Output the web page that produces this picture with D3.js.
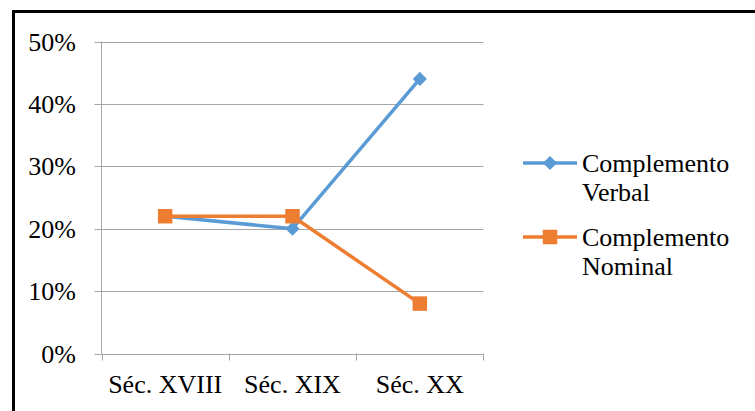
<!DOCTYPE html>
<html><head><meta charset="utf-8">
<script src="https://cdn.jsdelivr.net/npm/d3@7"></script>
</head><body style="margin:0">
<svg id="c" width="755" height="411" font-family="Times New Roman" style="font-family:'Times New Roman'"></svg>
<script>
const categories = ["Séc. XVIII", "Séc. XIX", "Séc. XX"];
const verbal = [0.22, 0.20, 0.44];
const nominal = [0.22, 0.22, 0.08];
const yTicks = [0, 0.1, 0.2, 0.3, 0.4, 0.5];
const seriesNames = [["Complemento", "Verbal"], ["Complemento", "Nominal"]];
const colors = ["#5B9BD5", "#ED7D31"];

const svg = d3.select("#c");
const fs = 26;
const FAM = "Times New Roman";

svg.append("rect").attr("x", 13.5).attr("y", 11.5).attr("width", 800).attr("height", 500)
  .attr("fill", "#fff").attr("stroke", "#000").attr("stroke-width", 3);

const pLeft = 101.5, pRight = 483.5, pTop = 41.5, pBottom = 353.5;
const x = d3.scaleBand().domain(categories).range([pLeft, pRight]).padding(0);
const y = d3.scaleLinear().domain([0, 0.5]).range([pBottom, pTop]);

svg.selectAll("line.grid").data(yTicks).join("line")
  .attr("x1", pLeft - 7).attr("x2", pRight)
  .attr("y1", d => Math.round(y(d)) + 0.5).attr("y2", d => Math.round(y(d)) + 0.5)
  .attr("stroke", "#A6A6A6").attr("stroke-width", 1);
svg.append("line").attr("x1", pLeft).attr("x2", pLeft).attr("y1", pTop).attr("y2", pBottom)
  .attr("stroke", "#A6A6A6");
const xt = [pLeft].concat(categories.map(c => x(c) + x.bandwidth()));
svg.selectAll("line.xt").data(xt).join("line")
  .attr("x1", d => Math.round(d) + 0.5).attr("x2", d => Math.round(d) + 0.5)
  .attr("y1", pBottom).attr("y2", pBottom + 7)
  .attr("stroke", "#A6A6A6");

function txt(xp, yp, anchor, s) {
  svg.append("text").attr("x", xp).attr("y", yp)
    .attr("text-anchor", anchor)
    .attr("font-family", FAM)
    .style("font-family", `"${FAM}"`)
    .style("font-size", fs + "px")
    .text(s);
}

yTicks.forEach(d => txt(76, y(d) + 9, "end", d3.format(".0%")(d)));
categories.forEach(c => txt(x(c) + x.bandwidth() / 2, 393, "middle", c));

const line = d3.line().x((d, i) => x(categories[i]) + x.bandwidth() / 2).y(d => y(d));
const diamond = d3.symbol().type(d3.symbolSquare).size(100);
const square = d3.symbol().type(d3.symbolSquare).size(210);

function drawSeries(vals, color, isDiamond) {
  svg.append("path").attr("d", line(vals)).attr("fill", "none")
    .attr("stroke", color).attr("stroke-width", 3.5).attr("stroke-linejoin", "round");
  vals.forEach((d, i) => {
    svg.append("path").attr("d", isDiamond ? diamond() : square())
      .attr("transform", `translate(${x(categories[i]) + x.bandwidth() / 2},${y(d)})` + (isDiamond ? " rotate(45)" : ""))
      .attr("fill", color);
  });
}
drawSeries(verbal, colors[0], true);
drawSeries(nominal, colors[1], false);

const legY = [163, 237];
seriesNames.forEach((names, i) => {
  svg.append("line").attr("x1", 523).attr("x2", 577).attr("y1", legY[i]).attr("y2", legY[i])
    .attr("stroke", colors[i]).attr("stroke-width", 3.5);
  svg.append("path").attr("d", i === 0 ? diamond() : square())
    .attr("transform", `translate(550,${legY[i]})` + (i === 0 ? " rotate(45)" : ""))
    .attr("fill", colors[i]);
  names.forEach((t, j) => txt(582, legY[i] + 9 + j * 29, "start", t));
});
</script>
</body></html>
